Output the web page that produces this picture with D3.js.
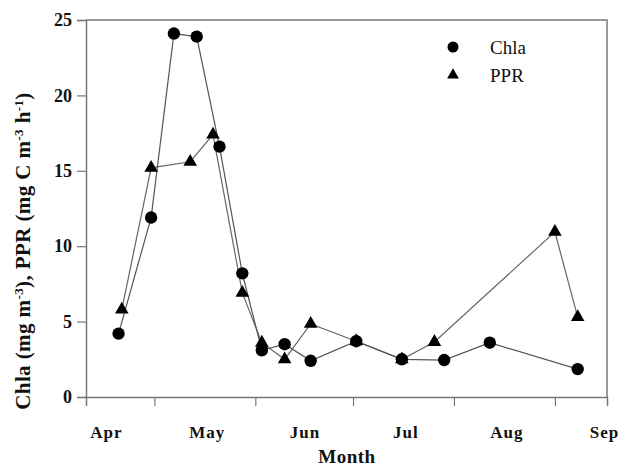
<!DOCTYPE html>
<html>
<head>
<meta charset="utf-8">
<script src="https://cdn.jsdelivr.net/npm/d3@7"></script>
<style>
  html, body { margin: 0; padding: 0; background: #fff; }
  svg { display: block; }
  text { font-family: "Liberation Serif", "Times New Roman", serif; fill: #111; }
</style>
</head>
<body>
<svg id="chart" width="626" height="472"></svg>
<script>
// ---- data ----
const chlaDates = ["2000-04-20","2000-04-30","2000-05-07","2000-05-14","2000-05-21","2000-05-28","2000-06-03","2000-06-10","2000-06-18","2000-07-02","2000-07-16","2000-07-29","2000-08-12","2000-09-08"];
const chlaValues = [4.2, 11.9, 24.1, 23.9, 16.6, 8.2, 3.1, 3.5, 2.4, 3.7, 2.5, 2.45, 3.6, 1.85];
const pprDates = ["2000-04-21","2000-04-30","2000-05-12","2000-05-19","2000-05-28","2000-06-03","2000-06-10","2000-06-18","2000-07-02","2000-07-16","2000-07-26","2000-09-01","2000-09-08"];
const pprValues = [5.8, 15.2, 15.6, 17.4, 6.9, 3.6, 2.5, 4.85, 3.7, 2.5, 3.65, 10.95, 5.3];
const yTicks = [0, 5, 10, 15, 20, 25];
const monthTicks = ["2000-05-01","2000-06-01","2000-07-01","2000-08-01","2000-09-01"];
const monthLabels = ["Apr","May","Jun","Jul","Aug","Sep"];
const monthLabelAnchors = ["2000-05-01","2000-06-01","2000-07-01","2000-08-01","2000-09-01","2000-10-01"];

const parse = d3.utcParse("%Y-%m-%d");
const svg = d3.select("#chart");
const L = 86, R = 607, T = 20, B = 397;

const x = d3.scaleUtc().domain([parse("2000-04-10"), parse("2000-09-17")]).range([L, R]);
const y = d3.scaleLinear().domain([0, 25]).range([B, T]);

// frame (top & right)
svg.append("path")
  .attr("d", `M${L},${T}H${R}V${B}`)
  .attr("fill", "none").attr("stroke", "#9a9a9a").attr("stroke-width", 2);

// y axis
const yAxis = svg.append("g").attr("transform", `translate(${L},0)`)
  .call(d3.axisLeft(y).tickValues(yTicks).tickSize(9).tickPadding(5).tickFormat(d3.format("d")));
yAxis.select(".domain").attr("stroke", "#777").attr("stroke-width", 1.5);
yAxis.selectAll(".tick line").attr("stroke", "#777").attr("stroke-width", 1.2);
yAxis.selectAll(".tick text").style("font-family", "'Liberation Serif', serif")
  .style("font-size", "18px").style("font-weight", "bold").attr("fill", "#111");

// x axis
const xAxis = svg.append("g").attr("transform", `translate(0,${B})`)
  .call(d3.axisBottom(x).tickValues(monthTicks.map(parse)).tickSize(9).tickFormat(""));
xAxis.select(".domain").attr("stroke", "#777").attr("stroke-width", 1.5);
xAxis.selectAll(".tick line").attr("stroke", "#777").attr("stroke-width", 1.2);

// month labels (placed just before the next month's start)
svg.append("g").selectAll("text").data(monthLabels).join("text")
  .attr("x", (d, i) => x(parse(monthLabelAnchors[i])) - 48)
  .attr("y", 438)
  .attr("text-anchor", "middle")
  .style("font-size", "17px").style("font-weight", "bold").style("letter-spacing", "1px")
  .text(d => d);

// axis titles
svg.append("text").attr("x", 347).attr("y", 463).attr("text-anchor", "middle")
  .style("font-size", "19px").style("font-weight", "bold").style("letter-spacing", "0.5px").text("Month");

const yt = svg.append("text")
  .attr("transform", "translate(30,251) rotate(-90)")
  .attr("text-anchor", "middle")
  .style("font-size", "21px").style("font-weight", "bold").style("letter-spacing", "0.4px");
const parts = [["Chla (mg m",0],["-3",1],["), PPR (mg C m",0],["-3",1],[" h",0],["-1",1],[")",0]];
parts.forEach(([t, sup]) => {
  yt.append("tspan").attr("baseline-shift", sup ? "super" : null)
    .style("font-size", sup ? "13px" : null).text(t);
});

// lines
const chla = chlaDates.map((d, i) => ({ d: parse(d), v: chlaValues[i] }));
const ppr = pprDates.map((d, i) => ({ d: parse(d), v: pprValues[i] }));
const line = d3.line().x(p => x(p.d)).y(p => y(p.v));

svg.append("path").datum(ppr).attr("d", line)
  .attr("fill", "none").attr("stroke", "#666").attr("stroke-width", 1.2);
svg.append("path").datum(chla).attr("d", line)
  .attr("fill", "none").attr("stroke", "#555").attr("stroke-width", 1.2);

const tri = d3.symbol().type(d3.symbolTriangle).size(80);
svg.append("g").selectAll("path").data(ppr).join("path")
  .attr("transform", p => `translate(${x(p.d)},${y(p.v)})`)
  .attr("d", tri).attr("fill", "#000");
svg.append("g").selectAll("circle").data(chla).join("circle")
  .attr("cx", p => x(p.d)).attr("cy", p => y(p.v)).attr("r", 6.2).attr("fill", "#000");

// legend
const lg = svg.append("g");
lg.append("circle").attr("cx", 453).attr("cy", 47).attr("r", 5.5).attr("fill", "#000");
lg.append("path").attr("transform", "translate(453,75)").attr("d", d3.symbol().type(d3.symbolTriangle).size(60)).attr("fill", "#000");
lg.append("text").attr("x", 490).attr("y", 54).style("font-size", "19px").text("Chla");
lg.append("text").attr("x", 490).attr("y", 82).style("font-size", "19px").text("PPR");
</script>
</body>
</html>
